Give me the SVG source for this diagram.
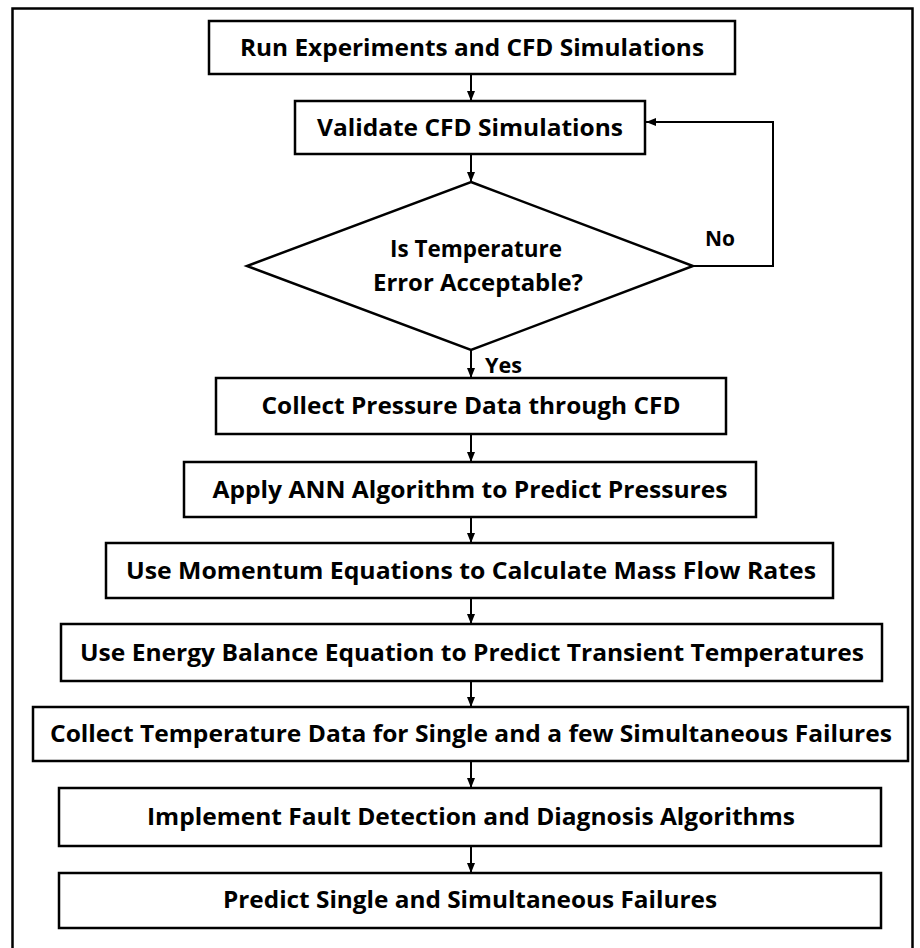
<svg xmlns="http://www.w3.org/2000/svg" width="920" height="948" viewBox="0 0 920 948">
  <style>
    .frame { fill: none; stroke: #000; stroke-width: 2.5; }
    .box { fill: #fff; stroke: #000; stroke-width: 2.5; }
    .lbl { font-family: "Open Sans", "Liberation Sans", sans-serif; font-weight: bold; font-size: 24px; fill: #000; text-anchor: middle; }
    .tag { font-family: "Open Sans", "Liberation Sans", sans-serif; font-weight: bold; font-size: 22px; fill: #000; }
    .conn { fill: none; stroke: #000; stroke-width: 2; marker-end: url(#arrow); }
  </style>
  <defs>
    <marker id="arrow" markerUnits="userSpaceOnUse" markerWidth="10" markerHeight="10" viewBox="0 0 10 10" refX="10" refY="5" orient="auto">
      <path d="M0,1 L10,5 L0,9 Z" fill="#000"/>
    </marker>
  </defs>

  <rect width="920" height="948" fill="#fff"/>
  <rect class="frame" x="12.5" y="8.5" width="900" height="960"/>

  <g id="connectors">
    <line class="conn" x1="471" y1="74" x2="471" y2="101"/>
    <line class="conn" x1="471" y1="154" x2="471" y2="182"/>
    <line class="conn" x1="471" y1="350" x2="471" y2="378"/>
    <line class="conn" x1="471" y1="434" x2="471" y2="462"/>
    <line class="conn" x1="471" y1="517" x2="471" y2="543"/>
    <line class="conn" x1="471" y1="598" x2="471" y2="624"/>
    <line class="conn" x1="471" y1="681" x2="471" y2="707"/>
    <line class="conn" x1="471" y1="761" x2="471" y2="788"/>
    <line class="conn" x1="471" y1="846" x2="471" y2="873"/>
    <polyline class="conn" points="693,266 773,266 773,122 646,122"/>
    <text class="tag" x="705" y="246" textLength="30" lengthAdjust="spacingAndGlyphs">No</text>
    <text class="tag" x="485" y="373" textLength="37" lengthAdjust="spacingAndGlyphs">Yes</text>
  </g>

  <g id="run-experiments">
    <rect class="box" x="209" y="21" width="526" height="53"/>
    <text class="lbl" x="472" y="56" textLength="464" lengthAdjust="spacingAndGlyphs">Run Experiments and CFD Simulations</text>
  </g>

  <g id="validate-cfd">
    <rect class="box" x="295" y="101" width="350" height="53"/>
    <text class="lbl" x="470" y="136" textLength="306" lengthAdjust="spacingAndGlyphs">Validate CFD Simulations</text>
  </g>

  <g id="temperature-check">
    <polygon class="box" points="471,182 693,266 471,350 247,266"/>
    <text class="lbl" x="476" y="257" textLength="172" lengthAdjust="spacingAndGlyphs">Is Temperature</text>
    <text class="lbl" x="478" y="291" textLength="210" lengthAdjust="spacingAndGlyphs">Error Acceptable?</text>
  </g>

  <g id="collect-pressure">
    <rect class="box" x="216" y="378" width="510" height="56"/>
    <text class="lbl" x="471" y="414" textLength="419" lengthAdjust="spacingAndGlyphs">Collect Pressure Data through CFD</text>
  </g>

  <g id="apply-ann">
    <rect class="box" x="184" y="462" width="572" height="55"/>
    <text class="lbl" x="470" y="497.5" textLength="515" lengthAdjust="spacingAndGlyphs">Apply ANN Algorithm to Predict Pressures</text>
  </g>

  <g id="momentum-equations">
    <rect class="box" x="106" y="543" width="727" height="55"/>
    <text class="lbl" x="471" y="578.5" textLength="690" lengthAdjust="spacingAndGlyphs">Use Momentum Equations to Calculate Mass Flow Rates</text>
  </g>

  <g id="energy-balance">
    <rect class="box" x="61" y="624" width="821" height="57"/>
    <text class="lbl" x="472" y="660.5" textLength="784" lengthAdjust="spacingAndGlyphs">Use Energy Balance Equation to Predict Transient Temperatures</text>
  </g>

  <g id="collect-temperature">
    <rect class="box" x="33" y="707" width="875" height="54"/>
    <text class="lbl" x="471" y="742" textLength="842" lengthAdjust="spacingAndGlyphs">Collect Temperature Data for Single and a few Simultaneous Failures</text>
  </g>

  <g id="fault-detection">
    <rect class="box" x="59" y="788" width="822" height="58"/>
    <text class="lbl" x="471" y="825" textLength="648" lengthAdjust="spacingAndGlyphs">Implement Fault Detection and Diagnosis Algorithms</text>
  </g>

  <g id="predict-failures">
    <rect class="box" x="59" y="873" width="822" height="55"/>
    <text class="lbl" x="470" y="908" textLength="494" lengthAdjust="spacingAndGlyphs">Predict Single and Simultaneous Failures</text>
  </g>
</svg>
